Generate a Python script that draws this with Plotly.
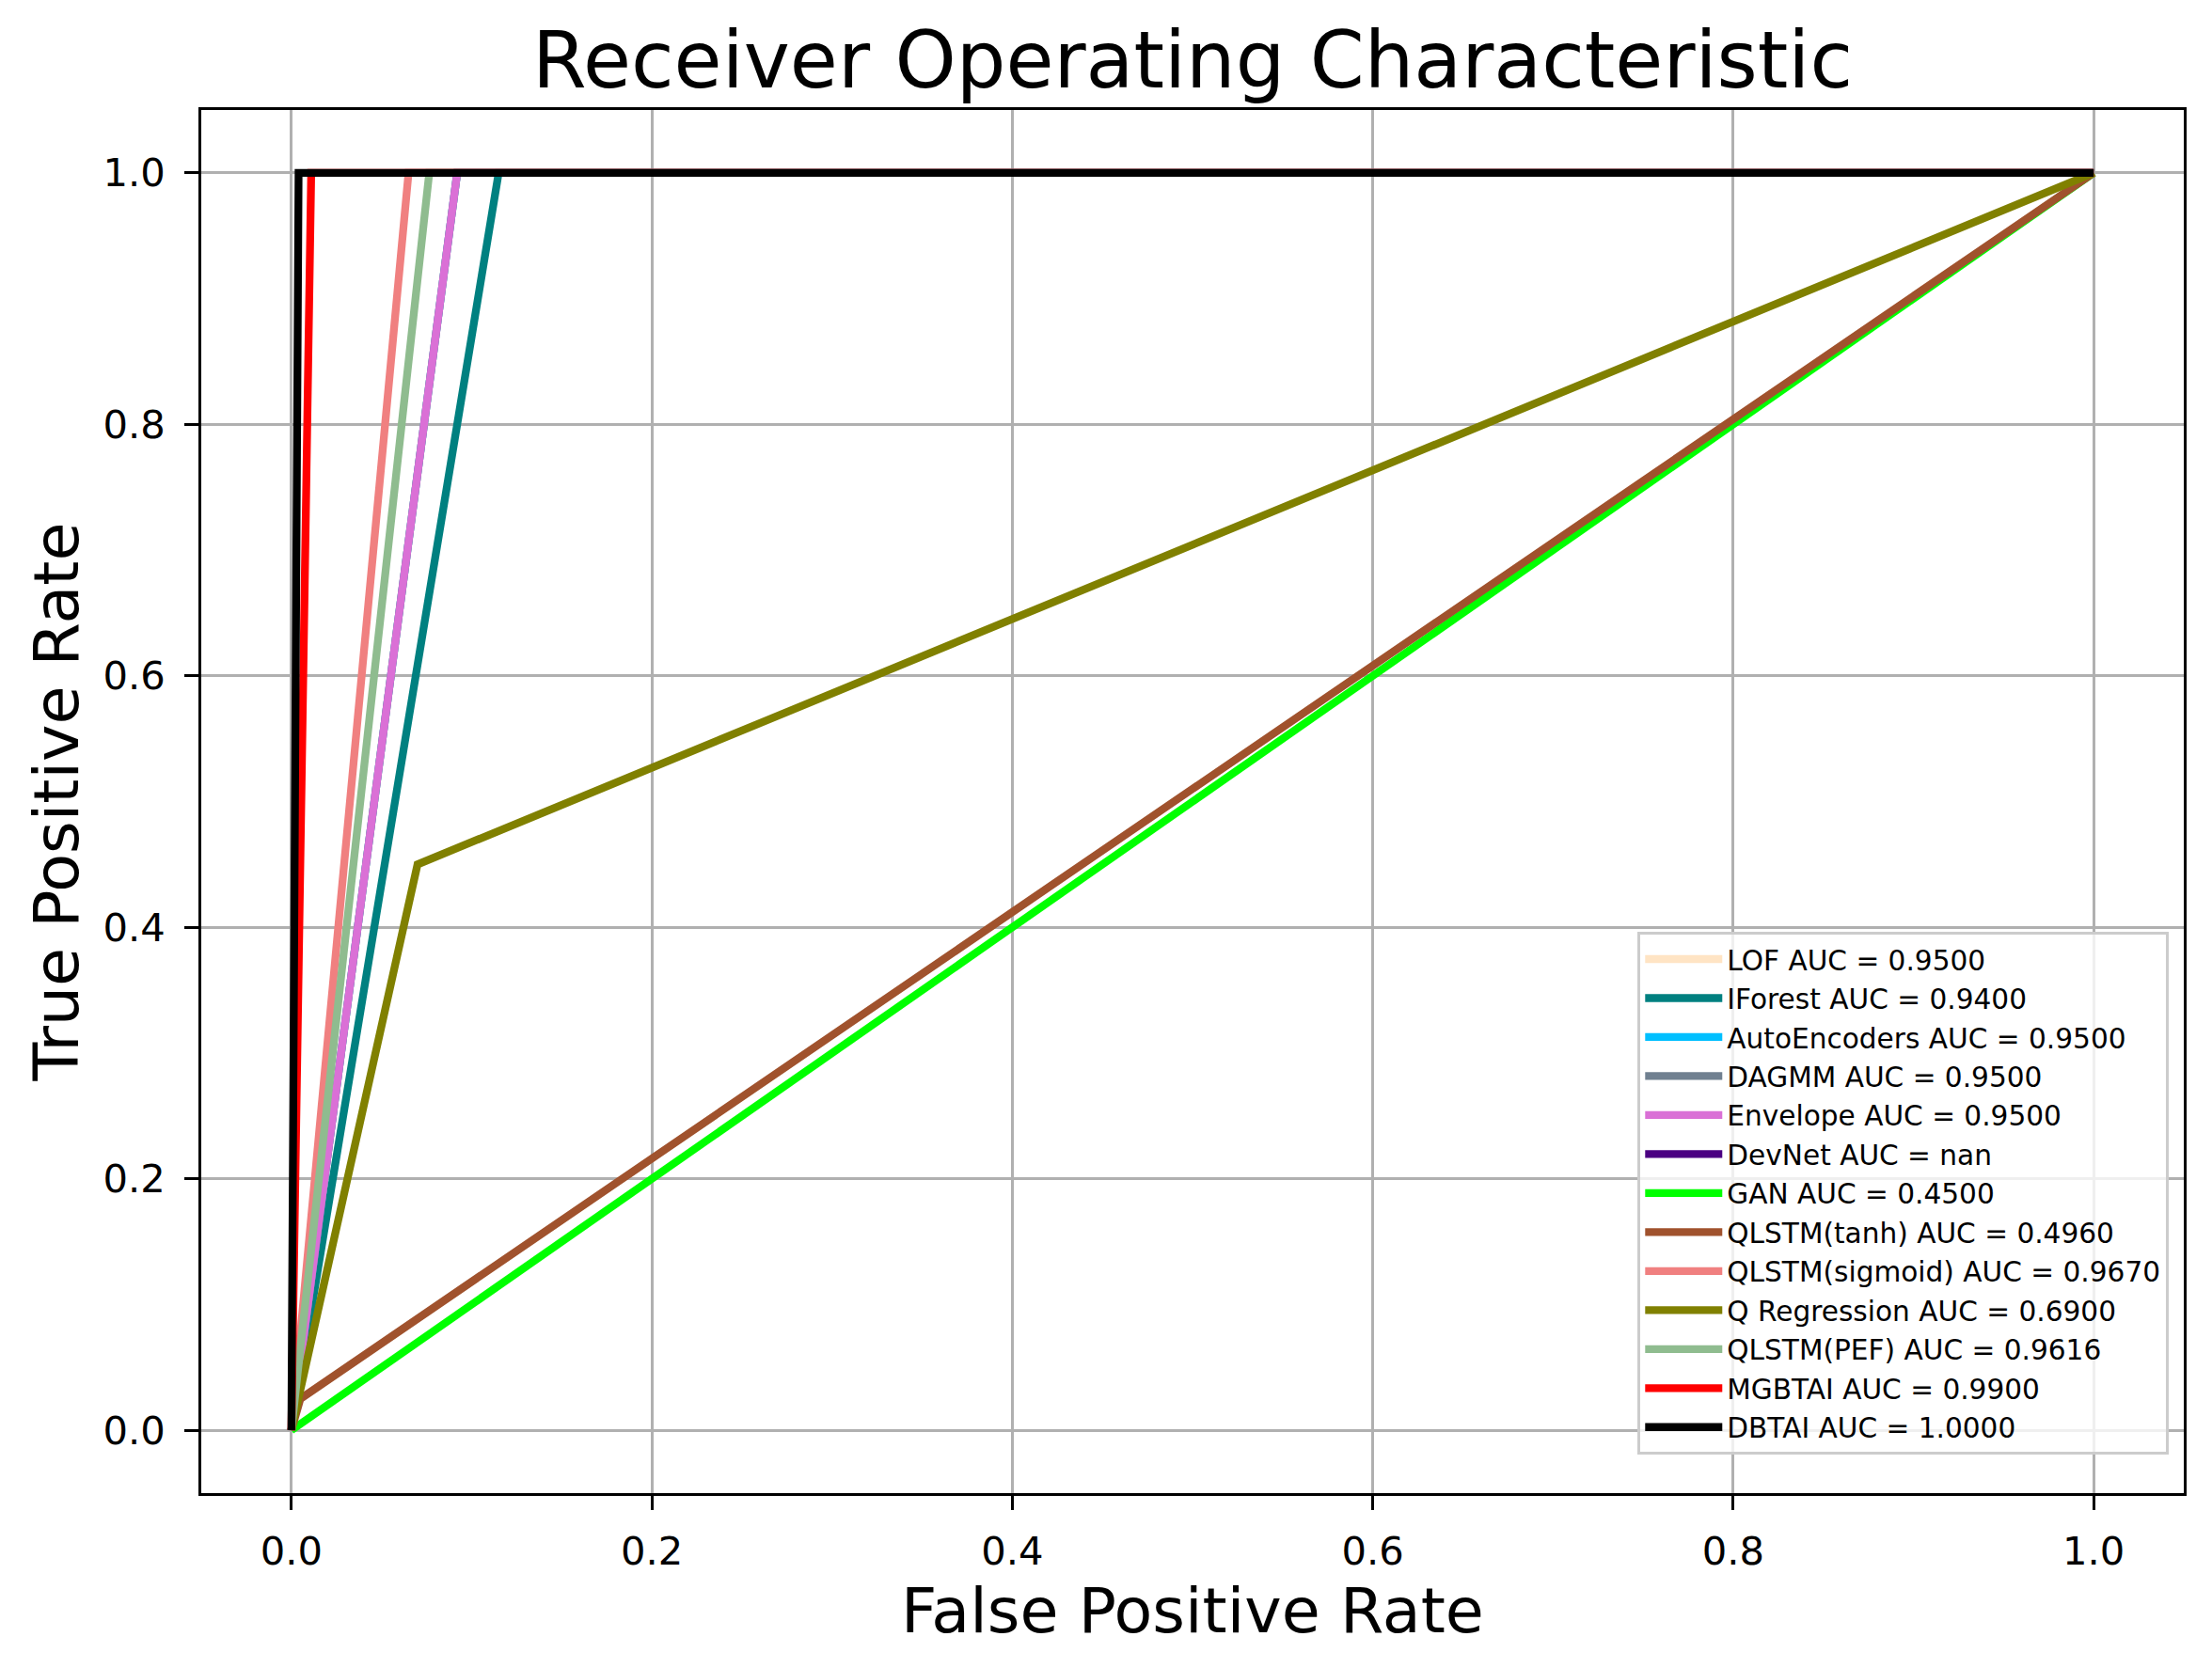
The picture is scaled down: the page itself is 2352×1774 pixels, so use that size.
import plotly.graph_objects as go
import numpy as np

# ---- data ----
names = ["LOF", "IForest", "AutoEncoders", "DAGMM", "Envelope", "DevNet", "GAN",
         "QLSTM(tanh)", "QLSTM(sigmoid)", "Q Regression", "QLSTM(PEF)", "MGBTAI", "DBTAI"]
auc_labels = ["0.9500", "0.9400", "0.9500", "0.9500", "0.9500", "nan", "0.4500",
              "0.4960", "0.9670", "0.6900", "0.9616", "0.9900", "1.0000"]
colors = ["#ffe4c4", "#008080", "#00bfff", "#708090", "#da70d6", "#4b0082", "#00ff00",
          "#a0522d", "#f08080", "#808000", "#8fbc8f", "#ff0000", "#000000"]

fpr_lof = [0.0, 0.092, 1.0]
tpr_lof = [0.0, 1.0, 1.0]
fpr_iforest = [0.0, 0.115, 1.0]
tpr_iforest = [0.0, 1.0, 1.0]
fpr_autoenc = [0.0, 0.092, 1.0]
tpr_autoenc = [0.0, 1.0, 1.0]
fpr_dagmm = [0.0, 0.092, 1.0]
tpr_dagmm = [0.0, 1.0, 1.0]
fpr_envelope = [0.0, 0.092, 1.0]
tpr_envelope = [0.0, 1.0, 1.0]
fpr_devnet = [np.nan, np.nan]
tpr_devnet = [np.nan, np.nan]
fpr_gan = [0.0, 1.0]
tpr_gan = [0.0, 1.0]
fpr_tanh = [0.0, 0.005, 1.0]
tpr_tanh = [0.0, 0.025, 1.0]
fpr_sigmoid = [0.0, 0.065, 1.0]
tpr_sigmoid = [0.0, 1.0, 1.0]
fpr_qreg = [0.0, 0.07, 1.0]
tpr_qreg = [0.0, 0.45, 1.0]
fpr_pef = [0.0, 0.0765, 1.0]
tpr_pef = [0.0, 1.0, 1.0]
fpr_mgbtai = [0.0, 0.011, 1.0]
tpr_mgbtai = [0.0, 1.0, 1.0]
fpr_dbtai = [0.0, 0.004, 1.0]
tpr_dbtai = [0.0, 1.0, 1.0]

fprs = [fpr_lof, fpr_iforest, fpr_autoenc, fpr_dagmm, fpr_envelope, fpr_devnet, fpr_gan,
        fpr_tanh, fpr_sigmoid, fpr_qreg, fpr_pef, fpr_mgbtai, fpr_dbtai]
tprs = [tpr_lof, tpr_iforest, tpr_autoenc, tpr_dagmm, tpr_envelope, tpr_devnet, tpr_gan,
        tpr_tanh, tpr_sigmoid, tpr_qreg, tpr_pef, tpr_mgbtai, tpr_dbtai]

tick_vals = [0.0, 0.2, 0.4, 0.6, 0.8, 1.0]
tick_text = ["0.0", "0.2", "0.4", "0.6", "0.8", "1.0"]

FONT = "DejaVu Sans"

fig = go.Figure()
for n, a, c, fx, ty in zip(names, auc_labels, colors, fprs, tprs):
    fig.add_trace(go.Scatter(
        x=fx, y=ty, mode="lines", name=f"{n} AUC = {a}",
        line=dict(color=c, width=8.3),
    ))

axis_common = dict(
    range=[-0.05, 1.05],
    tickvals=tick_vals, ticktext=tick_text,
    showgrid=True, gridcolor="#b0b0b0", gridwidth=3.3,
    zeroline=False,
    showline=True, linecolor="black", linewidth=3.3, mirror=True,
    ticks="outside", ticklen=14.6, tickwidth=3.3, tickcolor="black",
    tickfont=dict(family=FONT, size=41.7, color="black"),
    automargin=False,
)

fig.update_layout(
    width=2344, height=1766,
    margin=dict(l=206, r=30, t=109, b=186),
    paper_bgcolor="white", plot_bgcolor="white",
    font=dict(family=FONT, color="black"),
    title=dict(text="Receiver Operating Characteristic",
               font=dict(family=FONT, size=83, color="black"),
               x=0.5, xref="paper", xanchor="center",
               y=1 - 85 / 1766, yref="container", yanchor="bottom"),
    xaxis=dict(**axis_common,
               title=dict(text="False Positive Rate", font=dict(family=FONT, size=66.7, color="black"),
                          standoff=10)),
    yaxis=dict(**axis_common,
               title=dict(text="True Positive Rate", font=dict(family=FONT, size=66.7, color="black"),
                          standoff=5)),
    legend=dict(
        x=0.9924, y=0.0279, xanchor="right", yanchor="bottom",
        xref="paper", yref="paper",
        bgcolor="rgba(255,255,255,0.8)", bordercolor="#cccccc", borderwidth=3.3,
        font=dict(family=FONT, size=29.6, color="black"),
        tracegroupgap=0, itemwidth=82,
    ),
    showlegend=True,
)
fig.update_xaxes(ticklabelstandoff=8)
fig.update_yaxes(ticklabelstandoff=12)

fig.write_html("out.html")
